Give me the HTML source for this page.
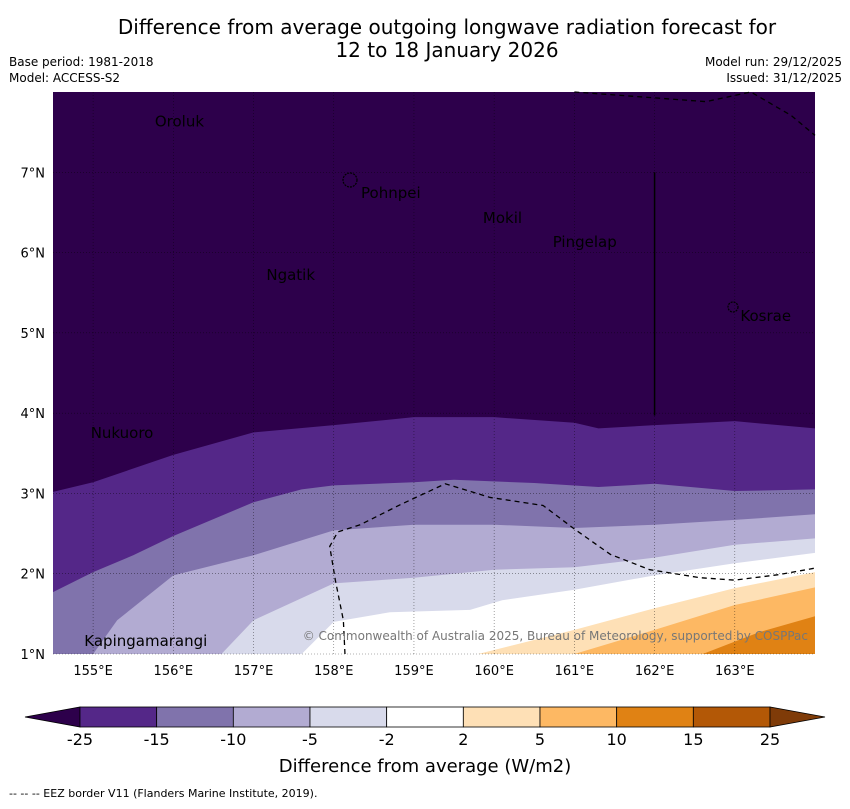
<!DOCTYPE html>
<html><head><meta charset="utf-8"><style>
body{margin:0;background:#fff;width:850px;height:804px;overflow:hidden;font-family:"Liberation Sans","DejaVu Sans",sans-serif}
svg text{font-family:"DejaVu Sans","Liberation Sans",sans-serif}
</style></head><body>
<svg id="c" width="850" height="804" xmlns="http://www.w3.org/2000/svg">
<text x="447" y="34" font-size="20" text-anchor="middle">Difference from average outgoing longwave radiation forecast for</text>
<text x="447" y="57" font-size="20" text-anchor="middle">12 to 18 January 2026</text>
<text x="9" y="66" font-size="12">Base period: 1981-2018</text>
<text x="9" y="82" font-size="12">Model: ACCESS-S2</text>
<text x="842" y="66" font-size="12" text-anchor="end">Model run: 29/12/2025</text>
<text x="842" y="82" font-size="12" text-anchor="end">Issued: 31/12/2025</text>
<g id="map"></g>
<g id="cb"></g>
<text x="425" y="772" font-size="18" text-anchor="middle">Difference from average (W/m2)</text>
<text x="9" y="797" font-size="11">-- -- -- EEZ border V11 (Flanders Marine Institute, 2019).</text>
</svg>
<script>
const colors=["#2d004b","#542788","#8073ac","#b2abd2","#d8daeb","#ffffff","#fee0b6","#fdb863","#e08214","#b35806"];
const cbLabels=["-25","-15","-10","-5","-2","2","5","10","15","25"];
const b1Lon=[154.5,155,156,157,158,159,160,161,161.3,162,163,164];
const b1Lat=[3.02,3.14,3.48,3.76,3.85,3.95,3.95,3.88,3.81,3.85,3.90,3.81];
const b2Lon=[154.5,155,155.5,156,157,157.6,158,159,159.5,160.5,161.3,162,163,164];
const b2Lat=[1.77,2.02,2.23,2.47,2.89,3.05,3.10,3.14,3.17,3.13,3.08,3.12,3.03,3.05];
const b3Lon=[155.0,155.3,156,157,158,159,160,161,162,163,164];
const b3Lat=[1.0,1.42,1.98,2.23,2.54,2.61,2.61,2.57,2.61,2.67,2.74];
const b4Lon=[156.6,157,158,159,160,161,162,163,164];
const b4Lat=[1.0,1.42,1.88,1.95,2.05,2.08,2.20,2.36,2.44];
const b5Lon=[157.6,158,158.7,159.7,160.1,161,162,163,164];
const b5Lat=[1.0,1.40,1.52,1.55,1.67,1.80,1.98,2.13,2.26];
const b6Lon=[159.8,161,162,163,164];
const b6Lat=[1.0,1.30,1.57,1.82,2.02];
const b7Lon=[161.0,162,163,164];
const b7Lat=[1.0,1.30,1.61,1.83];
const b8Lon=[162.6,163.3,164];
const b8Lat=[1.0,1.27,1.47];
const lonTicks=[155,156,157,158,159,160,161,162,163];
const latTicks=[1,2,3,4,5,6,7];
const islands=[["Oroluk",155.77,7.57],["Pohnpei",158.34,6.68],["Mokil",159.86,6.37],["Pingelap",160.73,6.07],["Ngatik",157.16,5.66],["Kosrae",163.07,5.15],["Nukuoro",154.97,3.69],["Kapingamarangi",154.89,1.1]];
const NS="http://www.w3.org/2000/svg";
const X0=53,X1=815,Y0=92,Y1=654,LON0=154.5,LON1=164,LAT0=1,LAT1=8;
const x=l=>X0+(l-LON0)/(LON1-LON0)*(X1-X0);
const y=l=>Y1-(l-LAT0)/(LAT1-LAT0)*(Y1-Y0);
const map=document.getElementById('map');
function mk(t,a,p){const e=document.createElementNS(NS,t);for(const k in a)e.setAttribute(k,a[k]);(p||map).appendChild(e);return e;}
const bg=mk('rect',{x:X0,y:Y0,width:X1-X0,height:Y1-Y0,fill:colors[0]});


const bounds=[[b1Lon,b1Lat],[b2Lon,b2Lat],[b3Lon,b3Lat],[b4Lon,b4Lat],[b5Lon,b5Lat],[b6Lon,b6Lat],[b7Lon,b7Lat],[b8Lon,b8Lat]];
const fillIdx=[1,2,3,4,5,6,7,8];
bounds.forEach((b,i)=>{
  let pts=b[0].map((lo,j)=>x(lo)+','+y(b[1][j]));
  pts.push(x(b[0][b[0].length-1])+','+Y1);pts.push(x(b[0][0])+','+Y1);
  const p=mk('polygon',{points:pts.join(' '),fill:colors[fillIdx[i]]});
  
  
});
lonTicks.forEach(l=>{
  const g=mk('line',{x1:x(l),x2:x(l),y1:Y0,y2:Y1,stroke:'#000','stroke-width':0.6,'stroke-dasharray':'1,2',opacity:0.6});
  
  
  const t=mk('text',{x:x(l),y:675,'font-size':13,'text-anchor':'middle'});t.textContent=l+'°E';
  
  
});
latTicks.forEach(l=>{
  const g=mk('line',{x1:X0,x2:X1,y1:y(l),y2:y(l),stroke:'#000','stroke-width':0.6,'stroke-dasharray':'1,2',opacity:0.6});
  
  
  const t=mk('text',{x:45,y:y(l)+5,'font-size':13,'text-anchor':'end'});t.textContent=l+'°N';
  
  
});
// EEZ borders
const eez=[[[158.14,1],[158.12,1.42],[158.02,1.92],[157.95,2.34],[158.05,2.52],[158.33,2.61],[158.83,2.86],[159.39,3.12],[159.95,2.95],[160.61,2.85],[161.01,2.55],[161.45,2.24],[161.94,2.05],[162.57,1.95],[163.0,1.92],[163.56,1.99],[164,2.07]],[[161.0,8],[161.96,7.93],[162.64,7.88],[163.2,8],[163.7,7.71],[164,7.46]]];
eez.forEach(s=>{const e=mk('polyline',{points:s.map(p=>x(p[0])+','+y(p[1])).join(' '),fill:'none',stroke:'#000','stroke-width':1.3,'stroke-dasharray':'5,4'});
  
  });
const vl=mk('line',{x1:x(162),x2:x(162),y1:y(7),y2:y(3.97),stroke:'#000','stroke-width':1.5});


[[350,180,7],[733,307,5]].forEach(c=>{const o=mk('circle',{cx:c[0],cy:c[1],r:c[2],fill:'none',stroke:'#000','stroke-width':1.2,'stroke-dasharray':'2,1'});
  
  });
islands.forEach(s=>{const t=mk('text',{x:x(s[1]),y:y(s[2]),'font-size':15,fill:'#000'});t.textContent=s[0];
  
  });
const cp=mk('text',{x:808,y:640,'font-size':12,fill:'#777','text-anchor':'end'});
cp.textContent='© Commonwealth of Australia 2025, Bureau of Meteorology, supported by COSPPac';


// colorbar
const cb=document.getElementById('cb');
const cx0=80,cw=690/9,cy=707,ch=20;
const lt=mk('polygon',{points:`${cx0},${cy} ${cx0},${cy+ch} 25,${cy+ch/2}`,fill:colors[0],stroke:'#000','stroke-width':0.8},cb);


for(let i=0;i<9;i++){const r=mk('rect',{x:cx0+i*cw,y:cy,width:cw,height:ch,fill:colors[i+1],stroke:'#000','stroke-width':0.8},cb);
  
  }
const rt=mk('polygon',{points:`${cx0+9*cw},${cy} ${cx0+9*cw},${cy+ch} 825,${cy+ch/2}`,fill:'#7f3b08',stroke:'#000','stroke-width':0.8},cb);


cbLabels.forEach((l,i)=>{const t=mk('text',{x:cx0+i*cw,y:745,'font-size':16,'text-anchor':'middle'},cb);t.textContent=l;
  
  });
</script>
</body></html>
